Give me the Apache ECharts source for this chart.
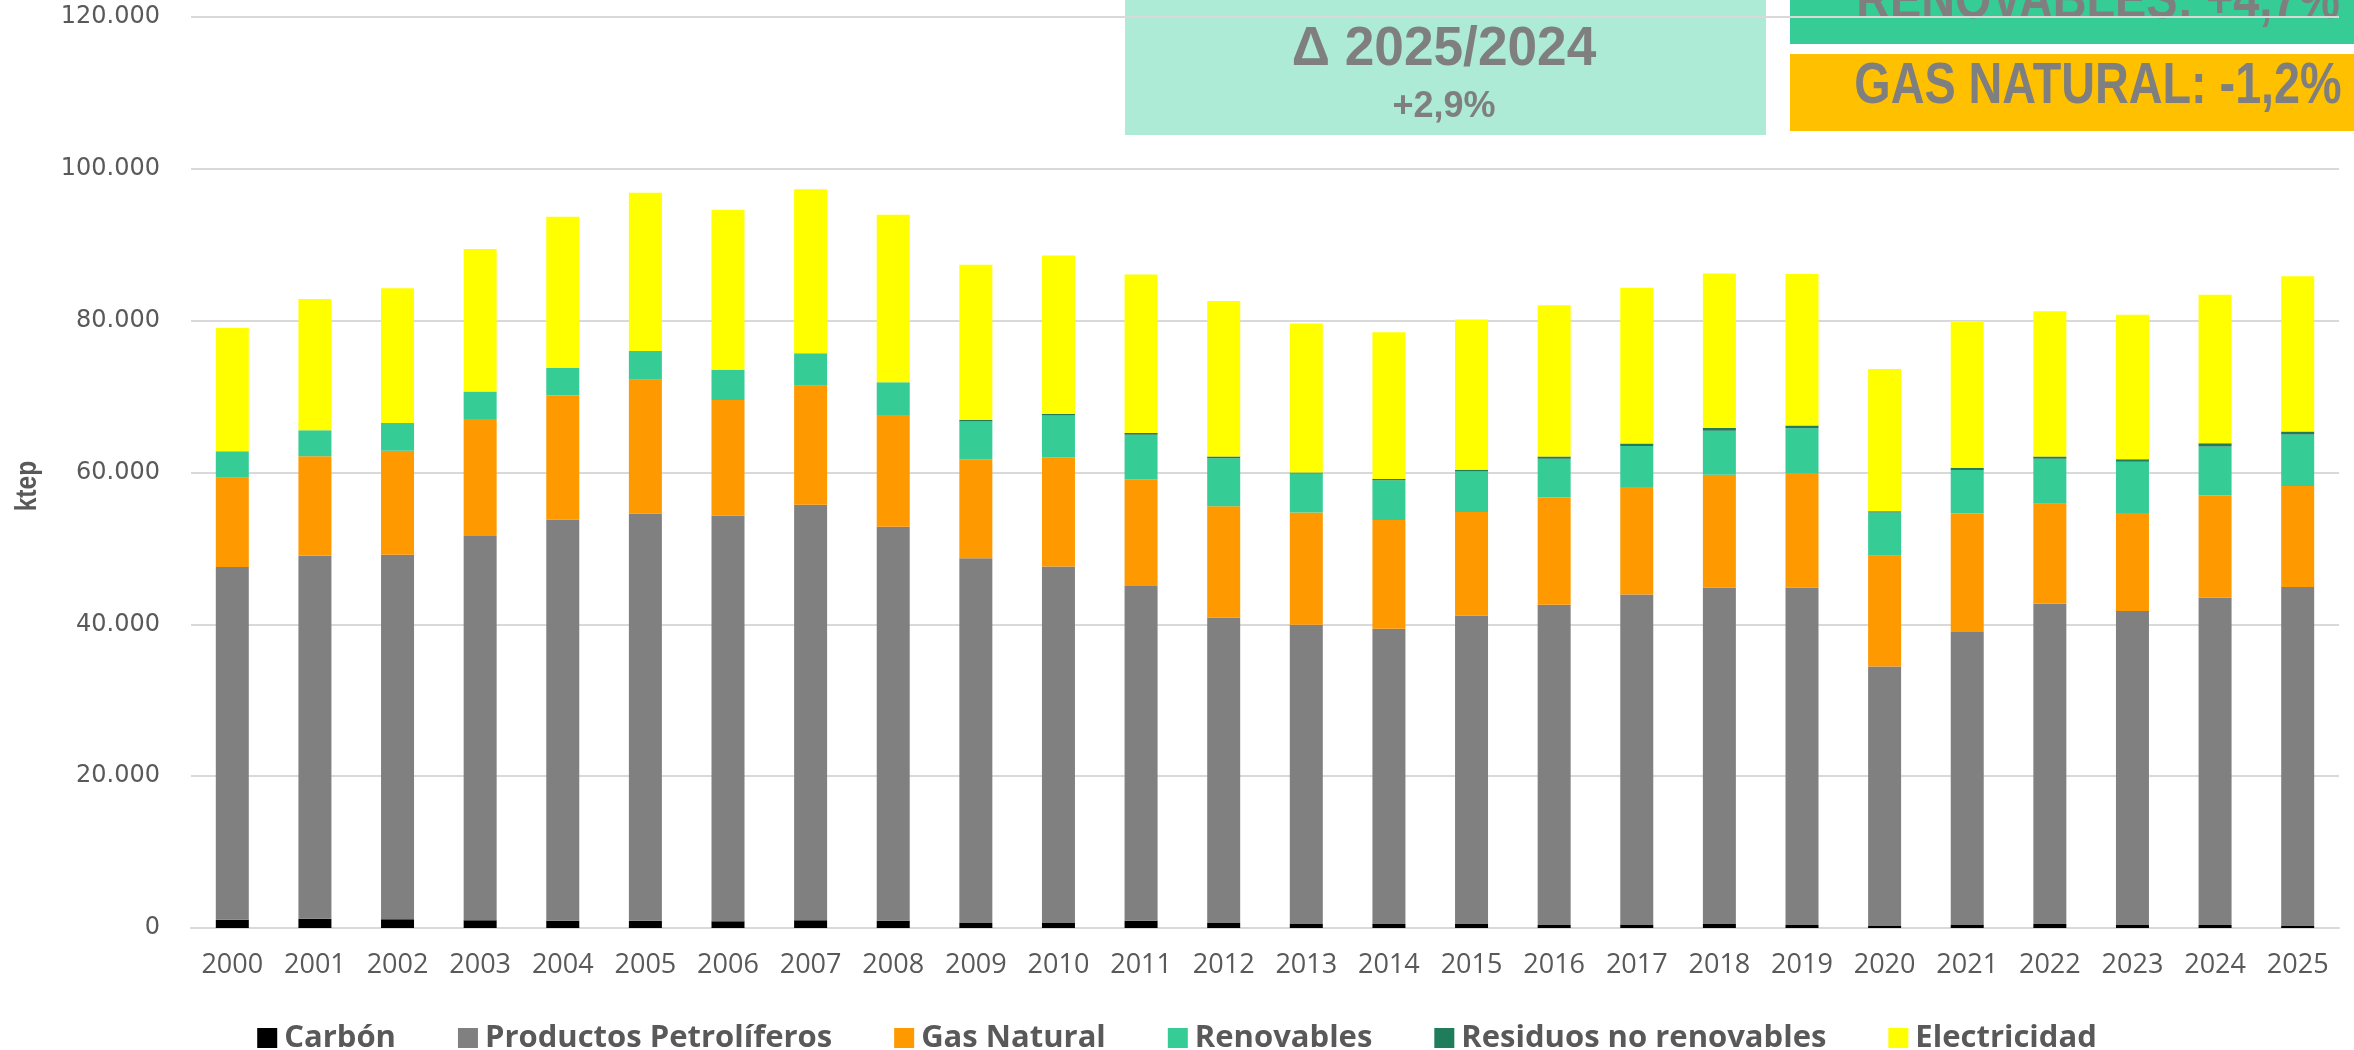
<!DOCTYPE html>
<html>
<head>
<meta charset="utf-8">
<script src="https://cdn.jsdelivr.net/npm/echarts@6/dist/echarts.min.js"></script>
<style>
html,body{margin:0;padding:0;background:#fff;}
#c{width:2354px;height:1050px;}
</style>
</head>
<body>
<div id="c"></div>
<script>
const years = ['2000','2001','2002','2003','2004','2005','2006','2007','2008','2009','2010','2011','2012','2013','2014','2015','2016','2017','2018','2019','2020','2021','2022','2023','2024','2025'];
const carbon = [1076,1210,1150,1009,950,950,880,1009,941,672,672,941,672,538,538,538,403,470,538,403,336,470,538,403,403,269];
const petroleo = [46470,47815,48010,50639,52850,53657,53458,54741,51919,48018,46942,44117,40216,39409,38871,40619,42167,43444,44318,44453,34096,38535,42166,41360,43108,44654];
const gasNatural = [11769,13114,13719,15400,16342,17619,15199,15670,14726,13046,14391,14055,14661,14795,14324,13653,14122,14190,14862,15064,14593,15602,13181,12912,13450,13290];
const renovables = [3497,3430,3631,3632,3632,3767,3968,4304,4304,4976,5515,5850,6321,5111,5245,5313,5111,5380,5783,5918,5717,5717,5918,6725,6480,6785];
const residuos = [0,0,0,0,0,0,0,0,0,200,200,250,250,150,150,250,300,350,350,350,150,300,300,350,400,400];
const electricidad = [16207,17285,17756,18763,19906,20847,21116,21587,22058,20446,20848,20867,20462,19621,19353,19790,19942,20498,20363,19959,18747,19336,19135,19017,19573,20450];
const yTicks = {min:0, max:120000, step:20000};
const seriesNames = ['Carbón','Productos Petrolíferos','Gas Natural','Renovables','Residuos no renovables','Electricidad'];
const boxTexts = {delta:'Δ 2025/2024', total:'+2,9%', renov:'RENOVABLES: +4,7%', gas:'GAS NATURAL: -1,2%'};

const colors = ['#000000','#808080','#FF9900','#36CC96','#1F7D5B','#FFFF00'];
const dataSets = [carbon, petroleo, gasNatural, renovables, residuos, electricidad];

function fmt(v){ return String(v).replace(/\B(?=(\d{3})+(?!\d))/g,'.'); }

const chart = echarts.init(document.getElementById('c'), null, {renderer:'canvas'});
chart.setOption({
  animation:false,
  backgroundColor:'#ffffff',
  grid:{left:191, right:15, top:17, bottom:122, containLabel:false},
  legend:{
    data:seriesNames,
    left:'center', top:1015,
    itemWidth:20, itemHeight:20, itemGap:62,
    icon:'rect',
    textStyle:{fontFamily:'Open Sans', fontWeight:'bold', fontSize:31, color:'#595959', lineHeight:36, padding:[0,0,0,2]}
  },
  xAxis:{
    type:'category', data:years,
    axisLine:{show:true, lineStyle:{color:'#D9D9D9', width:2}},
    axisTick:{show:false},
    axisLabel:{fontFamily:'Open Sans', fontSize:27, color:'#595959', margin:24}
  },
  yAxis:{
    type:'value', min:yTicks.min, max:yTicks.max, interval:yTicks.step,
    axisLine:{show:false}, axisTick:{show:false},
    splitLine:{lineStyle:{color:'#D9D9D9', width:2}},
    axisLabel:{fontFamily:'DejaVu Sans', fontSize:24, color:'#595959', margin:31, formatter:fmt}
  },
  series: seriesNames.map((n,i)=>({
    name:n, type:'bar', stack:'total', barWidth:33,
    itemStyle:{color:colors[i]},
    data:dataSets[i]
  })),
  graphic:[
    {type:'text', x:28, y:486, rotation:Math.PI/2, scaleX:0.85,
     style:{text:'ktep', fontFamily:'Liberation Sans', fontWeight:'bold', fontSize:29, fill:'#595959', align:'center', verticalAlign:'middle'}},
    {type:'rect', shape:{x:1125, y:-10, width:641, height:145}, style:{fill:'#ADEBD6'}},
    {type:'rect', shape:{x:1790, y:-10, width:600, height:54}, style:{fill:'#36CC96'}},
    {type:'rect', shape:{x:1790, y:54, width:600, height:77}, style:{fill:'#FFC000'}},
    {type:'text', x:1444, y:50, scaleX:0.95,
     style:{text:boxTexts.delta, fontFamily:'Liberation Sans', fontWeight:'bold', fontSize:56, fill:'#7F7F7F', align:'center', verticalAlign:'middle'}},
    {type:'text', x:1444, y:107, scaleX:1.0,
     style:{text:boxTexts.total, fontFamily:'Liberation Sans', fontWeight:'bold', fontSize:36, fill:'#7F7F7F', align:'center', verticalAlign:'middle'}},
    {type:'text', x:2098, y:2, scaleX:0.82,
     style:{text:boxTexts.renov, fontFamily:'Liberation Sans', fontWeight:'bold', fontSize:57, fill:'#7F7F7F', align:'center', verticalAlign:'middle'}},
    {type:'text', x:2098, y:87, scaleX:0.82,
     style:{text:boxTexts.gas, fontFamily:'Liberation Sans', fontWeight:'bold', fontSize:57, fill:'#7F7F7F', align:'center', verticalAlign:'middle'}}
  ]
});
</script>
</body>
</html>
